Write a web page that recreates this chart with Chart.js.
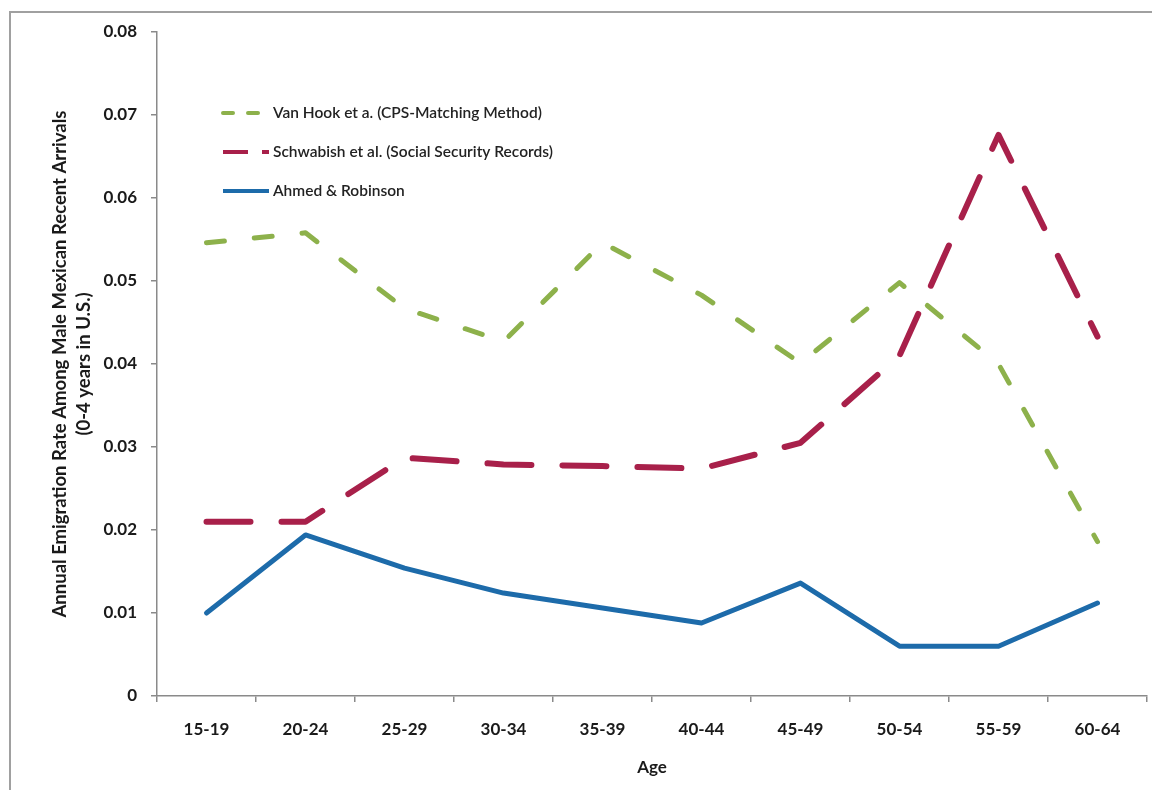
<!DOCTYPE html>
<html>
<head>
<meta charset="utf-8">
<script src="https://cdn.jsdelivr.net/npm/chart.js@4.4.1/dist/chart.umd.min.js"></script>
<style>
html,body{margin:0;padding:0;background:#fff;}
#wrap{width:1152px;height:790px;position:relative;}
canvas{display:block;}
</style>
</head>
<body>
<div id="wrap"><canvas id="c" width="1152" height="790"></canvas></div>
<script>
// ---- data ----
const ageGroups = ['15-19','20-24','25-29','30-34','35-39','40-44','45-49','50-54','55-59','60-64'];
const vanHook = [0.0546, 0.0558, 0.0467, 0.0427, 0.0546, 0.0483, 0.0401, 0.0498, 0.0400, 0.0186];
const schwabish = [0.0210, 0.0210, 0.0287, 0.0279, 0.0277, 0.0274, 0.0305, 0.0410, 0.0676, 0.0433];
const ahmedRobinson = [0.0100, 0.0194, 0.0154, 0.0124, 0.0106, 0.0088, 0.0136, 0.0060, 0.0060, 0.0112];
const seriesLabels = ['Van Hook et a. (CPS-Matching Method)', 'Schwabish et al. (Social Security Records)', 'Ahmed & Robinson'];
const yMin = 0, yMax = 0.08, yStep = 0.01;
const yTitle = ['Annual Emigration Rate Among Male Mexican Recent Arrivals', '(0-4 years in U.S.)'];
const xTitle = 'Age';

// ---- styles ----
const GREEN = '#8DB14B', RED = '#A8204A', BLUE = '#1D6BAA';
const FONT = 'Lato, "Open Sans", sans-serif';
const AXIS = '#8a8a8a';

const frame = {
  id: 'frame',
  beforeDraw(chart) {
    const ctx = chart.ctx;
    ctx.save();
    ctx.fillStyle = '#fff';
    ctx.fillRect(0, 0, chart.width, chart.height);
    ctx.strokeStyle = '#a0a0a0';
    ctx.lineWidth = 2;
    ctx.strokeRect(10, 12, chart.width + 10, chart.height + 10);
    ctx.restore();
  }
};

const legendSamples = [
  {dash: [10, 15], offset: 0, cap: 'round', width: 4},
  {dash: [25, 14], offset: 0, cap: 'butt', width: 4},
  {dash: [], offset: 0, cap: 'butt', width: 4}
];

const insideLegend = {
  id: 'insideLegend',
  afterDatasetsDraw(chart) {
    const ctx = chart.ctx;
    const ca = chart.chartArea;
    const x0 = ca.left + 66;
    const rows = [ca.top + 81, ca.top + 120, ca.top + 159];
    ctx.save();
    chart.data.datasets.forEach((ds, i) => {
      const s = legendSamples[i];
      const y = rows[i];
      ctx.beginPath();
      ctx.setLineDash(s.dash);
      ctx.lineDashOffset = s.offset;
      ctx.lineCap = s.cap;
      ctx.lineWidth = s.width;
      ctx.strokeStyle = ds.borderColor;
      ctx.moveTo(x0, y);
      ctx.lineTo(x0 + 46, y);
      ctx.stroke();
      ctx.setLineDash([]);
      ctx.fillStyle = '#222';
      ctx.font = '600 15.5px ' + FONT;
      ctx.textBaseline = 'middle';
      ctx.textAlign = 'left';
      ctx.fillText(ds.label, x0 + 50, y);
    });
    ctx.restore();
  }
};

new Chart(document.getElementById('c'), {
  type: 'line',
  data: {
    labels: ageGroups,
    datasets: [
      {label: seriesLabels[0], data: vanHook, borderColor: GREEN, backgroundColor: GREEN,
       borderWidth: 5, borderDash: [18, 30], borderCapStyle: 'round', borderJoinStyle: 'round'},
      {label: seriesLabels[1], data: schwabish, borderColor: RED, backgroundColor: RED,
       borderWidth: 6, borderDash: [44, 31], borderCapStyle: 'round', borderJoinStyle: 'round'},
      {label: seriesLabels[2], data: ahmedRobinson, borderColor: BLUE, backgroundColor: BLUE,
       borderWidth: 5, borderCapStyle: 'round', borderJoinStyle: 'round'}
    ]
  },
  options: {
    responsive: false,
    animation: false,
    devicePixelRatio: 1,
    layout: {padding: {left: 0, top: 32, right: 5, bottom: 0}},
    elements: {point: {radius: 0, hoverRadius: 0}, line: {tension: 0}},
    plugins: {legend: {display: false}, tooltip: {enabled: false}},
    scales: {
      x: {
        offset: true,
        afterFit(scale) { scale.height = 94; },
        grid: {display: true, offset: true, drawOnChartArea: false, drawTicks: true, tickLength: 6, color: AXIS, lineWidth: 1.5},
        border: {display: true, color: AXIS, width: 1.5},
        ticks: {color: '#1a1a1a', font: {family: FONT, size: 17, weight: 'bold'}, padding: 17, maxRotation: 0},
        title: {display: true, text: xTitle, color: '#1a1a1a', font: {family: FONT, size: 17, weight: 'bold'}, padding: {top: 0, bottom: 12}}
      },
      y: {
        min: yMin, max: yMax,
        afterFit(scale) { scale.width = 157; },
        grid: {display: true, drawOnChartArea: false, drawTicks: true, tickLength: 6, color: AXIS, lineWidth: 1.5},
        border: {display: true, color: AXIS, width: 1.5},
        ticks: {stepSize: yStep, color: '#1a1a1a', font: {family: FONT, size: 17, weight: 'bold'}, padding: 14,
                callback: (v) => (Math.abs(v) < 1e-9 ? '0' : Number(v).toFixed(2))},
        title: {display: true, text: yTitle, color: '#1a1a1a', font: {family: FONT, size: 18.5, weight: 'bold', lineHeight: 1.3}, padding: {top: 48, bottom: 0}}
      }
    }
  },
  plugins: [frame, insideLegend]
});
</script>
</body>
</html>
